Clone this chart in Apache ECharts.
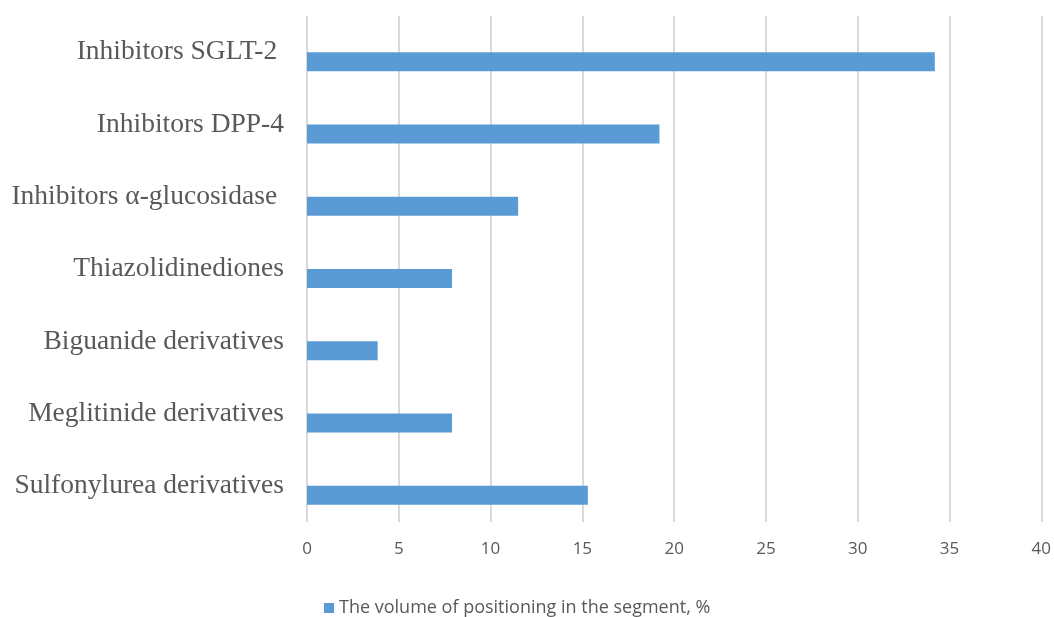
<!DOCTYPE html>
<html>
<head>
<meta charset="utf-8">
<script src="https://cdn.jsdelivr.net/npm/echarts@6/dist/echarts.min.js"></script>
<style>
  html, body { margin: 0; padding: 0; background: #fff; }
  #chart { width: 1054px; height: 617px; }
</style>
</head>
<body>
<div id="chart"></div>
<script>
// categories bottom to top, like the picture reads from the axis up
const categories = [
  'Sulfonylurea derivatives',
  'Meglitinide derivatives',
  'Biguanide derivatives',
  'Thiazolidinediones',
  'Inhibitors \u03b1-glucosidase ',
  'Inhibitors DPP-4',
  'Inhibitors SGLT-2 '
];
const shares = [15.3, 7.9, 3.85, 7.9, 11.5, 19.2, 34.2];
const seriesName = 'The volume of positioning in the segment, %';

const myChart = echarts.init(document.getElementById('chart'));

const option = {
  animation: false,
  grid: {
    left: 307,
    right: 12,
    top: 16,
    bottom: 95
  },
  legend: {
    data: [seriesName],
    left: 319,
    bottom: -5,
    icon: 'rect',
    itemWidth: 10,
    itemHeight: 10,
    itemGap: 5,
    textStyle: {
      fontFamily: 'Open Sans',
      fontSize: 18,
      color: '#595959'
    }
  },
  xAxis: {
    type: 'value',
    min: 0,
    max: 40,
    interval: 5,
    axisLine: { show: false },
    axisTick: { show: false },
    axisLabel: {
      margin: 19,
      fontFamily: 'Open Sans',
      fontSize: 17,
      color: '#595959'
    },
    splitLine: {
      lineStyle: { color: '#d9d9d9', width: 2 }
    }
  },
  yAxis: {
    type: 'category',
    data: categories,
    axisLine: { show: false },
    axisTick: { show: false },
    axisLabel: {
      margin: 23,
      fontFamily: 'Liberation Serif',
      fontSize: 27.5,
      color: '#595959'
    }
  },
  series: [
    {
      // empty companion series, only there to push the real bars down
      name: 'empty',
      type: 'bar',
      data: [],
      barWidth: 19,
      barGap: '0%'
    },
    {
      name: seriesName,
      type: 'bar',
      data: shares,
      barWidth: 19,
      barGap: '0%',
      itemStyle: { color: '#5b9bd5' }
    }
  ]
};

myChart.setOption(option);
</script>
</body>
</html>
